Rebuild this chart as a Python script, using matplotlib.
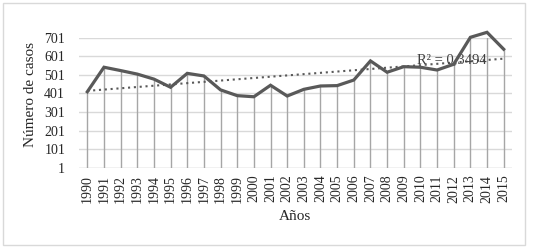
import numpy as np
import matplotlib
matplotlib.use("Agg")
import matplotlib.pyplot as plt
from matplotlib.patches import Rectangle

years = [str(y) for y in range(1990, 2016)]
casos = [410, 542, 524, 505, 478, 434, 509, 495, 420, 389, 383, 445,
         387, 423, 441, 443, 473, 576, 515, 545, 542, 527, 558, 703, 730, 639]
yticks = [1, 101, 201, 301, 401, 501, 601, 701]
r2_label = "R² = 0,3494"

plt.rcParams['font.family'] = ['Liberation Serif', 'DejaVu Serif']

W, H = 535, 247
fig = plt.figure(figsize=(W / 100, H / 100), dpi=100)
fig.patches.append(Rectangle((3 / W, 2 / H), 522 / W, 242 / H, transform=fig.transFigure,
                             fill=False, edgecolor='#d9d9d9', linewidth=1))

left, right, top, bottom = 79, 512, 37.7, 167.7
ax = fig.add_axes([left / W, (H - bottom) / H, (right - left) / W, (bottom - top) / H])

x = np.arange(len(years))
ax.set_xlim(-0.5, len(years) - 0.5)
ax.set_ylim(1, 701)
ax.set_yticks(yticks)
ax.set_yticklabels([str(t) for t in yticks], fontsize=10, color='#262626')
ax.grid(axis='y', color='#d9d9d9', linewidth=1)
ax.set_axisbelow(True)
for s in ax.spines.values():
    s.set_visible(False)
ax.axhline(1, color='#d9d9d9', linewidth=1, zorder=1)
ax.tick_params(axis='y', length=0, pad=10)
ax.tick_params(axis='x', length=0, pad=5)

ax.vlines(x, 1, casos, color='#a6a6a6', linewidth=1, zorder=2)
ax.plot(x, casos, color='#595959', linewidth=2.3, zorder=4, clip_on=False,
        solid_joinstyle='miter')

coef = np.polyfit(x, casos, 1)
trend = np.polyval(coef, x)
ax.plot(x, trend, color='#595959', linewidth=1.5, linestyle=(0, (1, 1.8)), zorder=3)

ax.set_xticks(x)
ax.set_xticklabels(years, rotation=90, fontsize=10, color='#262626')

ax.text(19.8, 583, r2_label, fontsize=10.5, color='#404040', va='center', ha='left')

ax.set_ylabel("Número de casos", fontsize=11, color='#262626')
ax.yaxis.set_label_coords(31 / W, (H - 94) / H, transform=fig.transFigure)
ax.yaxis.label.set_va('center')
ax.set_xlabel("Años", fontsize=11, color='#262626')
ax.xaxis.set_label_coords(295 / W, (H - 216.5) / H, transform=fig.transFigure)
ax.xaxis.label.set_va('center')

fig.savefig("out.png", dpi=100)
